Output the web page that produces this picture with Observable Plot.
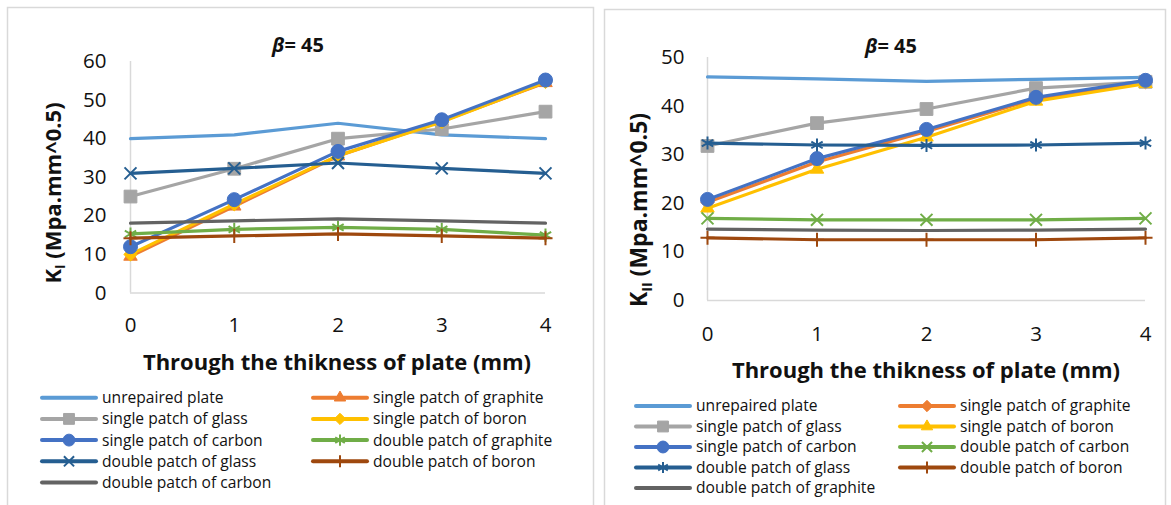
<!DOCTYPE html>
<html>
<head>
<meta charset="utf-8">
<script src="https://cdn.jsdelivr.net/npm/d3@7"></script>
<script src="https://cdn.jsdelivr.net/npm/@observablehq/plot@0.6"></script>
<style>
  html, body { margin: 0; padding: 0; background: #fff; }
  #root { position: relative; width: 1171px; height: 505px; overflow: hidden; background: #fff; }
  #root > svg, #root > .plot { position: absolute; }
</style>
</head>
<body>
<div id="root"></div>
<script>
const FONT = "'Open Sans', 'Noto Sans', sans-serif";

// ---------- data ----------
const thickness = [0, 1, 2, 3, 4];
const yTicksKI = [0, 10, 20, 30, 40, 50, 60];
const yTicksKII = [0, 10, 20, 30, 40, 50];
const titleText = "= 45";
const xTitle = "Through the thikness of plate (mm)";
const yUnit = " (Mpa.mm^0.5)";

const colors = ["#5B9BD5", "#ED7D31", "#A5A5A5", "#FFC000", "#4472C4", "#70AD47", "#255E91", "#9E480E", "#636363"];

// KI chart
const namesKI = ["unrepaired plate", "single patch of graphite", "single patch of glass", "single patch of boron",
  "single patch of carbon", "double patch of graphite", "double patch of glass", "double patch of boron", "double patch of carbon"];
const symbolsKI = [null, "triangle", "square", "diamond2", "circle", "asterisk", "times", "plus", null];
const KI_unrepaired      = [40, 41, 44, 41, 40];
const KI_singleGraphite  = [9.5, 22.5, 35.5, 44.5, 54.5];
const KI_singleGlass     = [25, 32.2, 40, 42.5, 47];
const KI_singleBoron     = [10, 23, 35.6, 44.3, 54.7];
const KI_singleCarbon    = [12, 24.2, 36.7, 44.9, 55.2];
const KI_doubleGraphite  = [15.3, 16.5, 17, 16.5, 15];
const KI_doubleGlass     = [31, 32.3, 33.7, 32.3, 31];
const KI_doubleBoron     = [14.2, 14.8, 15.3, 14.8, 14.2];
const KI_doubleCarbon    = [18.1, 18.7, 19.2, 18.7, 18.1];
const valuesKI = [KI_unrepaired, KI_singleGraphite, KI_singleGlass, KI_singleBoron, KI_singleCarbon,
  KI_doubleGraphite, KI_doubleGlass, KI_doubleBoron, KI_doubleCarbon];

// KII chart
const namesKII = ["unrepaired plate", "single patch of graphite", "single patch of glass", "single patch of boron",
  "single patch of carbon", "double patch of carbon", "double patch of glass", "double patch of boron", "double patch of graphite"];
const symbolsKII = [null, "diamond2", "square", "triangle", "circle", "times", "asterisk", "plus", null];
const KII_unrepaired     = [46, 45.6, 45.1, 45.5, 45.9];
const KII_singleGraphite = [20.2, 28.5, 34.8, 41.5, 44.9];
const KII_singleGlass    = [31.8, 36.5, 39.4, 43.7, 45];
const KII_singleBoron    = [19, 27, 33.6, 41, 44.6];
const KII_singleCarbon   = [20.8, 29.2, 35.2, 41.8, 45.3];
const KII_doubleCarbon   = [16.9, 16.6, 16.6, 16.6, 16.9];
const KII_doubleGlass    = [32.4, 32, 31.9, 32, 32.4];
const KII_doubleBoron    = [12.9, 12.5, 12.5, 12.5, 12.9];
const KII_doubleGraphite = [14.7, 14.5, 14.4, 14.5, 14.7];
const valuesKII = [KII_unrepaired, KII_singleGraphite, KII_singleGlass, KII_singleBoron, KII_singleCarbon,
  KII_doubleCarbon, KII_doubleGlass, KII_doubleBoron, KII_doubleGraphite];

// ---------- styling helpers ----------
const strokeSymbols = new Set(["times", "asterisk", "plus"]);
const symbolR = {circle: 7, square: 7.2, triangle: 5, diamond2: 6, times: 5.5, asterisk: 6.2, plus: 4.6};
const symbolMap = {circle: d3.symbolCircle, square: d3.symbolSquare, triangle: d3.symbolTriangle,
  diamond2: d3.symbolDiamond2, times: d3.symbolTimes, asterisk: d3.symbolAsterisk, plus: d3.symbolPlus};

function buildRows(names, values) {
  const rows = [];
  names.forEach((name, i) => values[i].forEach((v, j) => rows.push({series: name, idx: i, x: thickness[j], y: v})));
  return rows;
}

function makePlot(cfg) {
  const rows = buildRows(cfg.names, cfg.values);
  const marks = [
    Plot.ruleY([0], {stroke: "#d9d9d9", strokeWidth: 1.5}),
    Plot.ruleX([0], {stroke: "#d9d9d9", strokeWidth: 1.5}),
    Plot.axisX(thickness, {tickSize: 0, tickPadding: cfg.xPad, fontSize: 20.5, label: null, tickFormat: d => String(d), fill: "#111"}),
    Plot.axisY(cfg.yTicks, {tickSize: 0, tickPadding: cfg.yPad, fontSize: 20.5, label: null, tickFormat: d => String(d), fill: "#111"})
  ];
  cfg.names.forEach((name, i) => {
    const data = rows.filter(r => r.idx === i);
    marks.push(Plot.line(data, {x: "x", y: "y", stroke: colors[i], strokeWidth: 3.2, strokeLinejoin: "round", strokeLinecap: "round"}));
    const sym = cfg.symbols[i];
    if (sym) {
      if (strokeSymbols.has(sym)) {
        marks.push(Plot.dot(data, {x: "x", y: "y", symbol: sym, r: symbolR[sym], stroke: colors[i], strokeWidth: 2, fill: "none"}));
      } else {
        marks.push(Plot.dot(data, {x: "x", y: "y", symbol: sym, r: symbolR[sym], fill: colors[i], stroke: colors[i], strokeWidth: 1}));
      }
    }
  });
  const svg = Plot.plot({
    width: cfg.width, height: cfg.height,
    marginLeft: cfg.ml, marginRight: cfg.mr, marginTop: cfg.mt, marginBottom: cfg.mb,
    x: {domain: [0, 4]},
    y: {domain: [0, cfg.yTicks[cfg.yTicks.length - 1]]},
    style: {fontFamily: FONT, background: "transparent", overflow: "visible", color: "#111"},
    marks
  });
  svg.style.left = cfg.left + "px";
  svg.style.top = "0px";
  return svg;
}

const root = document.getElementById("root");

// ---------- overlay: frames, titles, legends ----------
const ov = d3.select(root).append("svg").attr("width", 1171).attr("height", 505)
  .style("left", "0px").style("top", "0px").style("font-family", FONT);

ov.append("rect").attr("x", 7.5).attr("y", 7.5).attr("width", 586).attr("height", 520)
  .attr("fill", "none").attr("stroke", "#d9d9d9").attr("stroke-width", 1.5);
ov.append("rect").attr("x", 604.5).attr("y", 9.5).attr("width", 561).attr("height", 520)
  .attr("fill", "none").attr("stroke", "#d9d9d9").attr("stroke-width", 1.5);

function panelText(p) {
  // title
  const t = ov.append("text").attr("x", p.titleX).attr("y", p.titleY).attr("text-anchor", "middle")
    .attr("font-size", 20).attr("font-weight", 700).attr("fill", "#111");
  t.append("tspan").attr("font-style", "italic").text("β");
  t.append("tspan").text(titleText);
  // x title
  ov.append("text").attr("x", p.xtX).attr("y", p.xtY).attr("text-anchor", "middle")
    .attr("font-size", 22).attr("font-weight", 700).attr("fill", "#111").text(xTitle);
  // y title
  const yt = ov.append("text").attr("transform", `translate(${p.ytX},${p.ytY}) rotate(-90)`)
    .attr("text-anchor", "middle").attr("font-size", p.ytSize).attr("font-weight", 700).attr("fill", "#111");
  yt.append("tspan").text("K");
  yt.append("tspan").attr("font-size", p.ytSize * 0.62).attr("dy", p.ytSize * 0.2).text(p.sub);
  yt.append("tspan").attr("dy", -p.ytSize * 0.2).text(yUnit);
  // legend
  p.names.forEach((name, i) => {
    const col = i % 2, row = Math.floor(i / 2);
    const x0 = p.legX[col], y = p.legY0 + row * p.legDY;
    const g = ov.append("g");
    g.append("line").attr("x1", x0).attr("x2", x0 + 54).attr("y1", y).attr("y2", y)
      .attr("stroke", colors[i]).attr("stroke-width", 4).attr("stroke-linecap", "round");
    const sym = p.symbols[i];
    if (sym) {
      const r = symbolR[sym] * 0.85;
      const path = d3.symbol(symbolMap[sym], r * r * Math.PI)();
      const s = g.append("path").attr("d", path).attr("transform", `translate(${x0 + 27},${y})`);
      if (strokeSymbols.has(sym)) s.attr("fill", "none").attr("stroke", colors[i]).attr("stroke-width", 2);
      else s.attr("fill", colors[i]).attr("stroke", colors[i]).attr("stroke-width", 1);
    }
    g.append("text").attr("x", x0 + 60).attr("y", y + 5.4).attr("font-size", 15.6).attr("fill", "#111").text(name);
  });
}

panelText({titleX: 298, titleY: 52, xtX: 337, xtY: 370, ytX: 61, ytY: 193, ytSize: 22, sub: "I",
  names: namesKI, symbols: symbolsKI, legX: [42, 313], legY0: 397.7, legDY: 21.2});
panelText({titleX: 891, titleY: 53, xtX: 926, xtY: 378, ytX: 647, ytY: 210, ytSize: 23, sub: "II",
  names: namesKII, symbols: symbolsKII, legX: [636, 900], legY0: 406, legDY: 20.5});

// ---------- plots ----------
root.appendChild(makePlot({names: namesKI, values: valuesKI, symbols: symbolsKI, yTicks: yTicksKI,
  left: 0, width: 600, height: 340, ml: 130, mr: 55, mt: 61, mb: 47.5, xPad: 24, yPad: 24}));
root.appendChild(makePlot({names: namesKII, values: valuesKII, symbols: symbolsKII, yTicks: yTicksKII,
  left: 600, width: 571, height: 350, ml: 107, mr: 26, mt: 57, mb: 50, xPad: 26, yPad: 23}));
</script>
</body>
</html>
